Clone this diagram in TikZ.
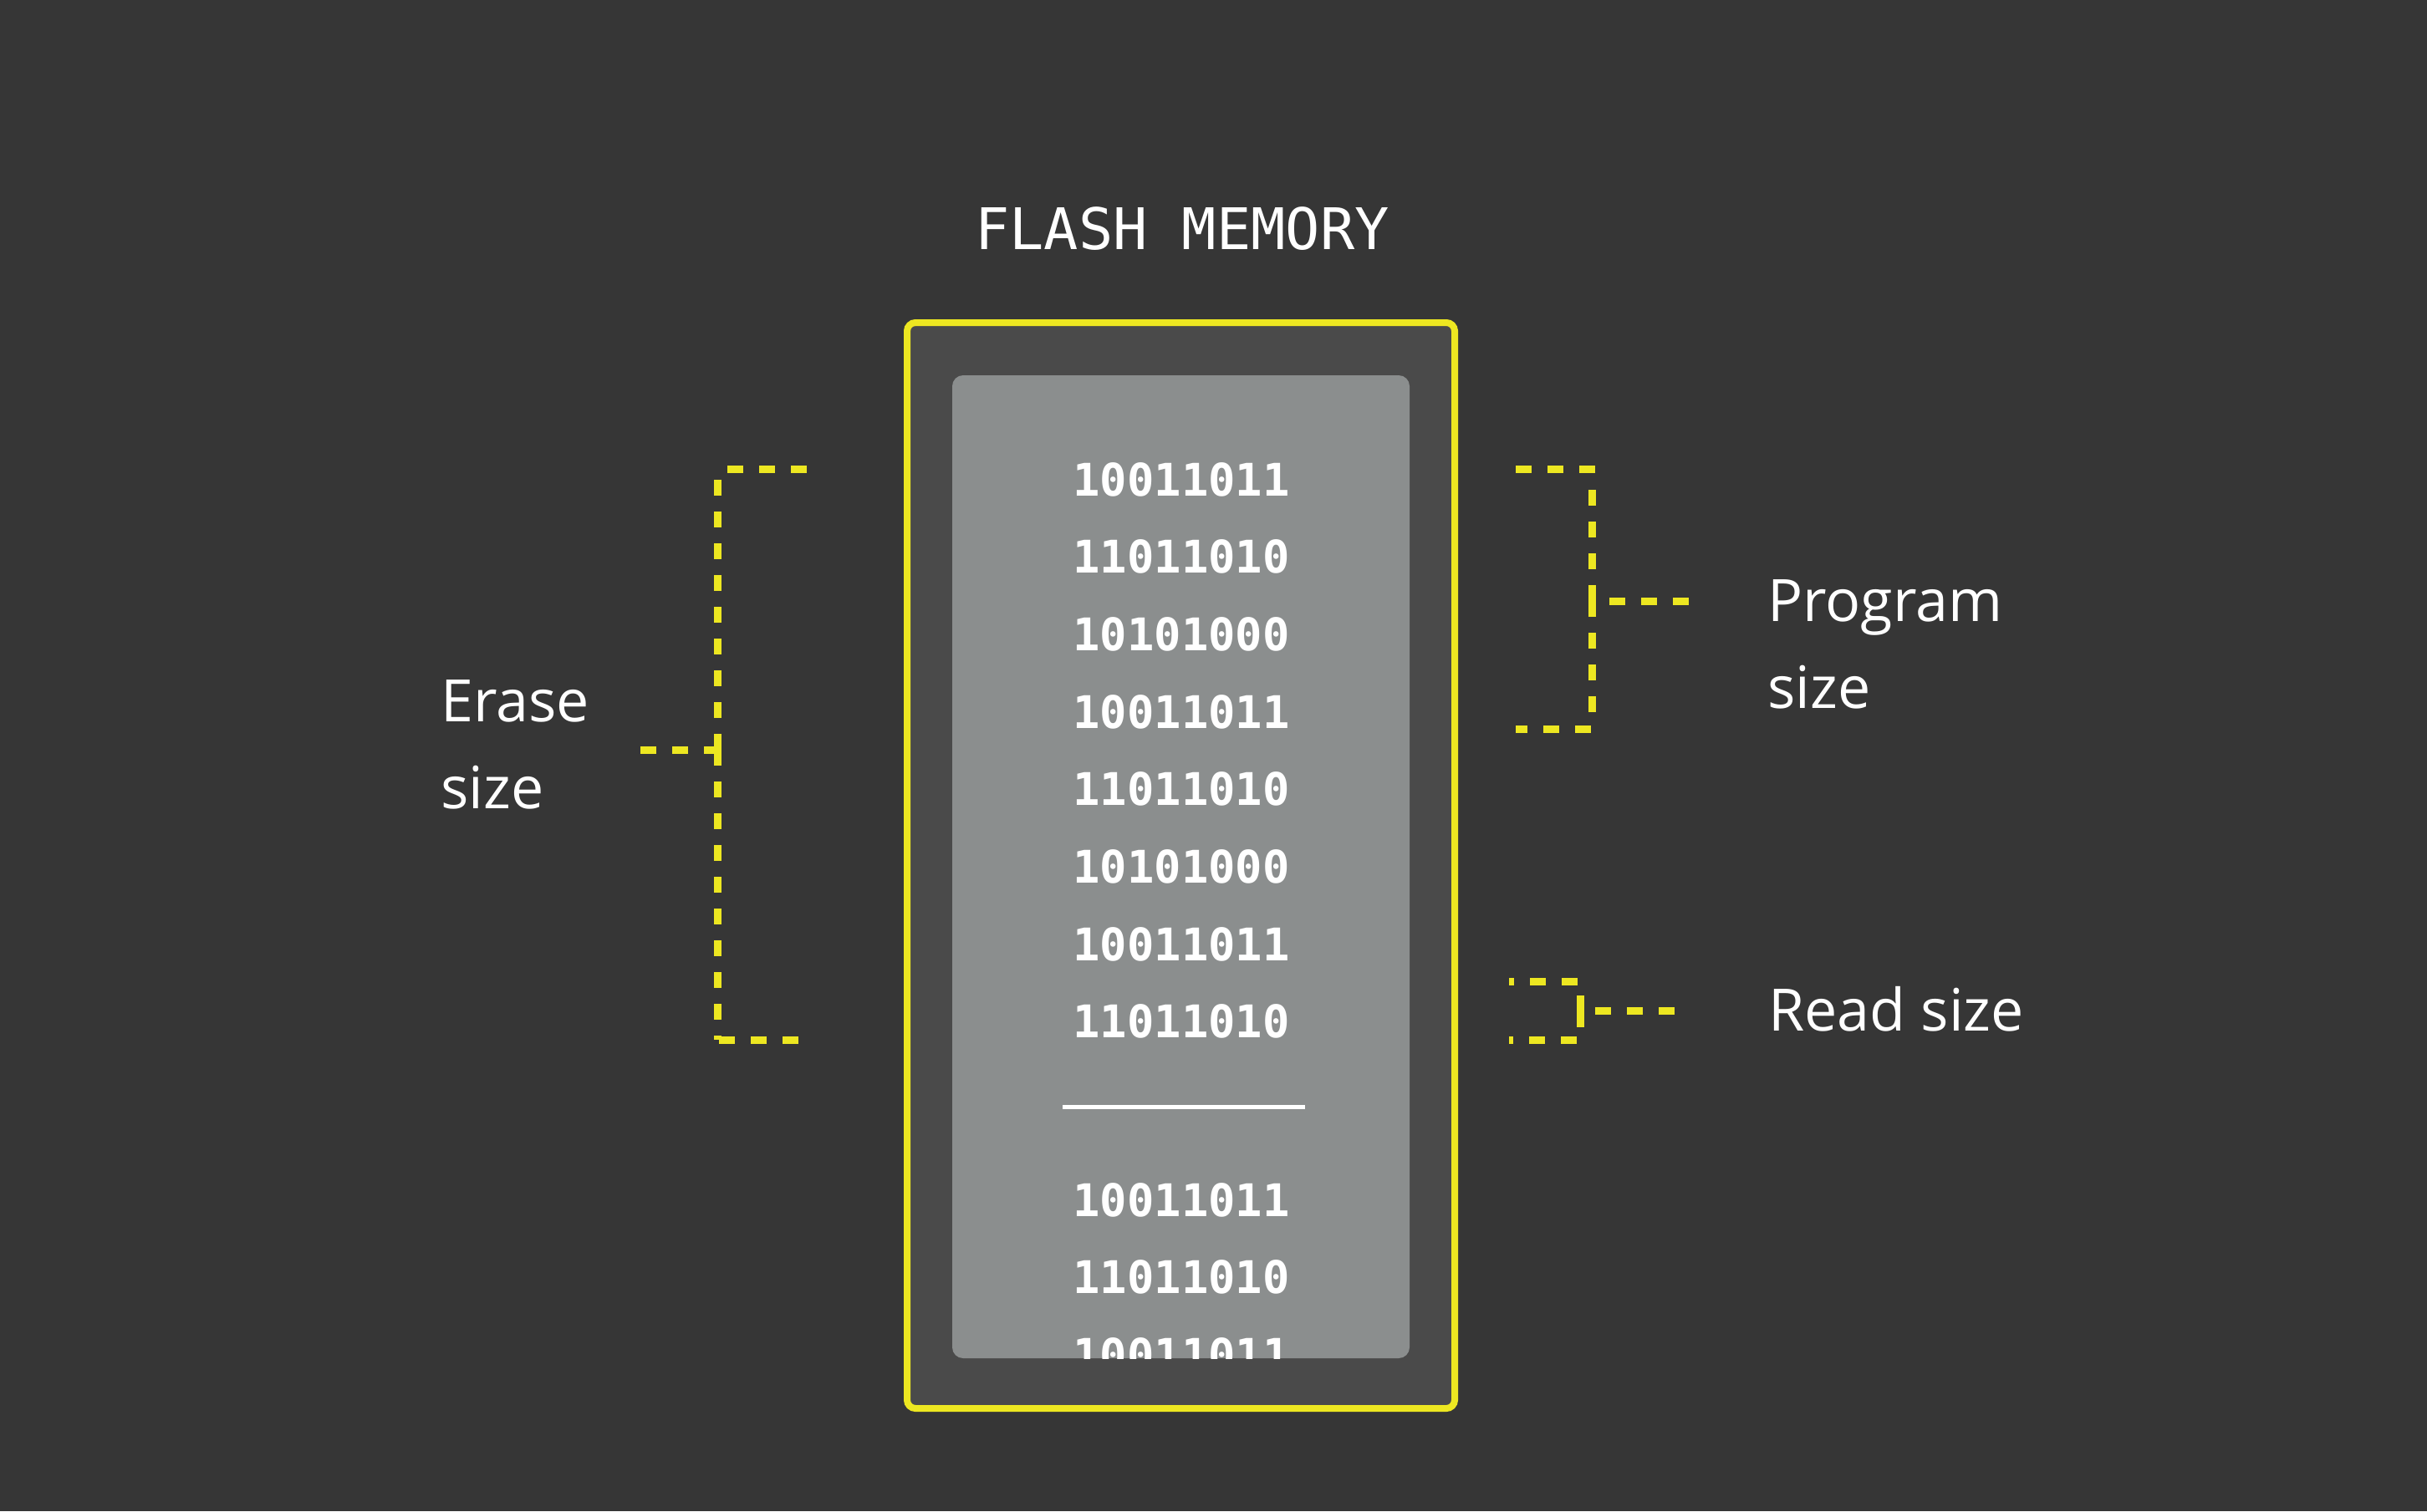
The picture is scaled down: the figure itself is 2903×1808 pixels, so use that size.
\documentclass[tikz,border=0pt]{standalone}
\usepackage{fontspec}
\setmainfont{Open Sans}
\newfontfamily\codefont{DejaVu Sans Mono}
\usepackage{tikz}
\definecolor{bggrey}{RGB}{54, 54, 54}
\definecolor{chipgrey}{RGB}{74, 74, 74}
\definecolor{cellgrey}{RGB}{139, 142, 142}
\definecolor{markyellow}{RGB}{237, 231, 33}

\tikzset{
  bracket/.style={draw=markyellow, line width=0.09cm, dash pattern=on 0.19cm off 0.19cm},
  bitrow/.style={anchor=base, inner sep=0, text=white, font=\codefont\bfseries\fontsize{15.3}{18}\selectfont},
  sizetext/.style={anchor=base west, inner sep=0, text=white, align=left, font=\fontsize{19.9}{29.5}\selectfont}
}

\begin{document}
\begin{tikzpicture}[x=0.01cm, y=-0.01cm, thick]
  % Background
  \fill[bggrey] (0, 0) rectangle (2903, 1808);

  % Title
  \node[anchor=base, inner sep=0, text=white, font=\codefont\fontsize{19.5}{23}\selectfont] (title) at (1414, 298) {FLASH MEMORY};

  % Chip
  \filldraw[fill=chipgrey, draw=markyellow, line width=0.08cm, rounded corners=0.1cm] (1085, 386) rectangle (1740, 1685);
  \fill[cellgrey, rounded corners=0.13cm] (1139, 449) rectangle (1686, 1625);

  \begin{scope}
    \clip[rounded corners=0.13cm] (1139, 449) rectangle (1686, 1625);

    \foreach \bits [count=\i from 0] in {10011011, 11011010, 10101000, 10011011, 11011010, 10101000, 10011011, 11011010} {
      \node[bitrow] (row\i) at (1413, {593 + 92.7 * \i}) {\bits};
    }

    \draw[white, line width=0.05cm] (1271, 1324) -- (1561, 1324);

    \foreach \bits [count=\i from 0] in {10011011, 11011010, 10011011} {
      \node[bitrow] (next\i) at (1413, {1455 + 92.7 * \i}) {\bits};
    }
  \end{scope}

  % Erase size
  \coordinate (erase) at (858, 897);
  \draw[bracket] (erase) -- (858, 561);
  \draw[bracket] (erase) -- (858, 1244);
  \draw[bracket] (870, 561) -- (967, 561);
  \draw[bracket] (860, 1244) -- (957, 1244);
  \draw[bracket] (766, 897) -- (erase);
  \node[sizetext] (eraselabel) at (526, 967) {Erase\\size};

  % Program size
  \coordinate (prog) at (1904, 719);
  \draw[bracket] (prog) -- (1904, 584);
  \draw[bracket] (prog) -- (1904, 856);
  \draw[bracket] (1908, 561) -- (1813, 561);
  \draw[bracket] (1903, 872) -- (1813, 872);
  \draw[bracket] (1925, 719) -- (2022, 719);
  \node[sizetext] (proglabel) at (2113, 847) {Program\\size};

  % Read size
  \coordinate (read) at (1890, 1209);
  \draw[draw=markyellow, line width=0.09cm] (1890, 1191) -- (1890, 1229);
  \draw[bracket] (1887, 1174) -- (1805, 1174);
  \draw[bracket] (1886, 1244) -- (1805, 1244);
  \draw[bracket] (1908, 1209) -- (2004, 1209);
  \node[sizetext] (readlabel) at (2114, 1233) {Read size};
\end{tikzpicture}
\end{document}
